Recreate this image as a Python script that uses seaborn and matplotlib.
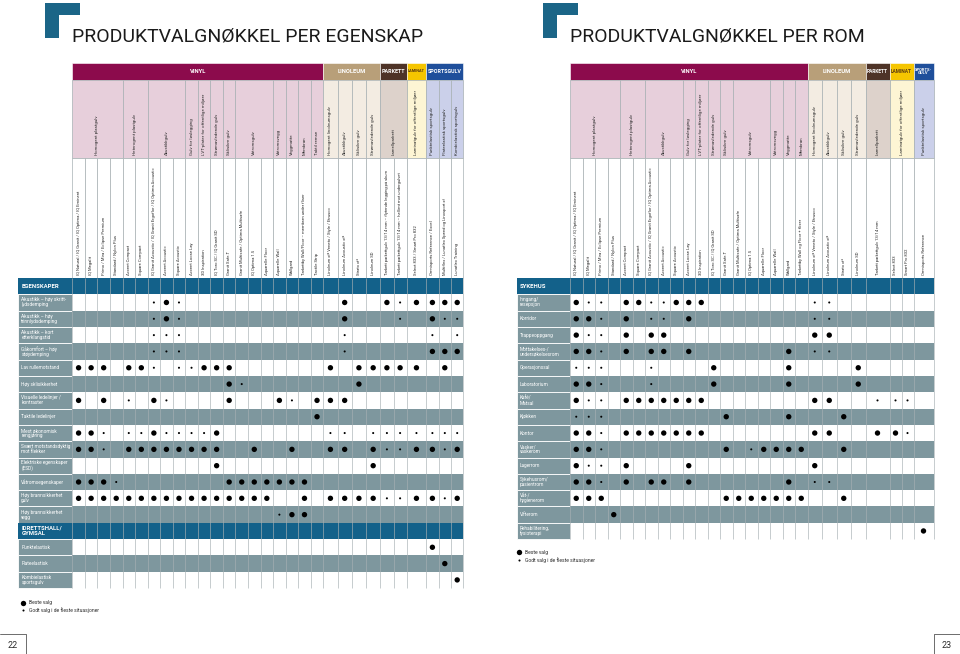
import numpy as np
import matplotlib

matplotlib.use('Agg')
import matplotlib.pyplot as plt
from matplotlib.patches import Rectangle
import pandas as pd
import seaborn as sns

sns.set_theme(style='white')
plt.rcParams['font.family'] = ['Liberation Sans Narrow', 'Roboto', 'DejaVu Sans']

# ---------------- data: left page (per egenskap) ----------------
left_categories = ['VINYL', 'LINOLEUM', 'PARKETT', 'LAMINAT', 'SPORTSGULV']
left_category_span = [20, 4, 2, 1, 3]
left_groups = ['Homogent plastgulv', 'Heterogent plastgulv', 'Akustikkgulv', 'Gulv for løslegging',
               'LVT-plater for offentlige miljøer', 'Strømavledende gulv', 'Sklisikre gulv', 'Våtromsgulv',
               'Våtromsvegg', 'Veggmatte', 'Membran', 'Taktil remse',
               'Homogent linoleumsgulv', 'Akustikkgulv', 'Sklisikre gulv', 'Strømavledende gulv',
               'Lamellparkett', 'Laminatgulv for offentlige miljøer',
               'Punktelastisk sportsgulv', 'Flateelastisk sportsgulv', 'Kombielastisk sportsgulv']
left_group_span = [4, 2, 3, 1, 1, 1, 1, 3, 1, 1, 1, 1, 1, 1, 1, 1, 2, 1, 1, 1, 1]
left_products = ['IQ Natural / IQ Granit / IQ Optima / IQ Eminent', 'IQ Megalit',
                 'Primo / Mira / Eclipse Premium', 'Standard / Nylon Plus', 'Accent Compact',
                 'Square Compact', 'IQ Granit Acoustic / IQ Granit Ergoflor / IQ Optima Acoustic',
                 'Accent Acoustic', 'Square Acoustic', 'Accent Loose Lay', '3D Inspiration',
                 'IQ Toro SC / IQ Granit SD', 'Granit Safe.T', 'Granit Multisafe / Optima Multisafe',
                 'IQ Optima 1.5', 'Aquarelle Floor', 'Aquarelle Wall', 'Wallgard',
                 'Tarkettby Wall/Floor – membran under fliser', 'Tactile Strip',
                 'Linoleum xf² Veneto / Style / Etrusco', 'Linoleum Acoustic xf²', 'Strato xf²',
                 'Linoleum SD', 'Tarkett parkettgulv 13/14 mm – flytende legging på skum',
                 'Tarkett parkettgulv 13/14 mm – hellimt mot undergulvet', 'Select 833 / Smart Pro 832',
                 'Omnisports Reference / Excel', 'Multiflex / Lunaflex Speed og Linosport xf',
                 'Lunaflex Training']
left_sections = ['EGENSKAPER', 'IDRETTSHALL/\nGYMSAL']
left_rows_1 = ['Akustikk – høy skritt-\nlydsdemping', 'Akustikk – høy\ntrinnlydsdemping',
               'Akustikk – kort\netterklangstid', 'Gåkomfort – høy\nstøydemping', 'Lav rullemotstand',
               'Høy sklisikkerhet', 'Visuelle ledelinjer /\nkontraster', 'Taktile ledelinjer',
               'Mest økonomisk\nrengjøring', 'Svært motstandsdyktig\nmot flekker',
               'Elektriske egenskaper\n(ESD)', 'Våtromsegenskaper', 'Høy brannsikkerhet\ngulv',
               'Høy brannsikkerhet\nvegg']
left_rows_2 = ['Punktelastisk', 'Flateelastisk', 'Kombielastisk\nsportsgulv']
# B = beste valg, s = godt valg, . = tom
left_marks = [
    '......sBs' + '............' + 'B..BsBBBB',
    '......sBs' + '............' + 'B...s.Bss',
    '......sss' + '............' + 's.....s.s',
    '......sss' + '............' + 's.....BBB',
    'BBB.BBs.ssBBB' + '.......' + 'B.BBBBB.B.',
    '............Bs' + '........' + 'B.......',
    'B.B.s.Bs....B' + '...Bs.' + 'BBB.......',
    '...................B' + '..........',
    'BBs.ssBssssB' + '........' + 'ss.sssssss',
    'BBs.BBBBBBBB' + '..B..B..' + 'BB.BssBBsB',
    '...........B' + '...........' + 'B......',
    'BBBs' + '........' + 'BBBBBBB' + '...........',
    'BBBBBBBBBBBBBBBB' + '..B.' + 'BBBBssBBsB',
    '................' + 'sBB' + '...........',
    '...........................B..',
    '............................B.',
    '.............................B',
]

# ---------------- data: right page (per rom) ----------------
right_categories = ['VINYL', 'LINOLEUM', 'PARKETT', 'LAMINAT', 'SPORTS-\nGULV']
right_category_span = [19, 4, 1, 2, 1]
right_groups = ['Homogent plastgulv', 'Heterogent plastgulv', 'Akustikkgulv', 'Gulv for løslegging',
                'LVT-plater for offentlige miljøer', 'Strømavledende gulv', 'Sklisikre gulv', 'Våtromsgulv',
                'Våtromsvegg', 'Veggmatte', 'Membran',
                'Homogent linoleumsgulv', 'Akustikkgulv', 'Sklisikre gulv', 'Strømavledende gulv',
                'Lamellparkett', 'Laminatgulv for offentlige miljøer', 'Punktelastisk sportsgulv']
right_group_span = [4, 2, 3, 1, 1, 1, 1, 3, 1, 1, 1, 1, 1, 1, 1, 1, 2, 1]
right_products = ['IQ Natural / IQ Granit / IQ Optima / IQ Eminent', 'IQ Megalit',
                  'Primo / Mira / Eclipse Premium', 'Standard / Nylon Plus', 'Accent Compact',
                  'Square Compact', 'IQ Granit Acoustic / IQ Granit Ergoflor / IQ Optima Acoustic',
                  'Accent Acoustic', 'Square Acoustic', 'Accent Loose Lay', '3D Inspiration',
                  'IQ Toro SC / IQ Granit SD', 'Granit Safe.T', 'Granit Multisafe / Optima Multisafe',
                  'IQ Optima 1.5', 'Aquarelle Floor', 'Aquarelle Wall', 'Wallgard',
                  'Tarkettby Wall og Floor + fliser', 'Linoleum xf² Veneto / Style / Etrusco',
                  'Linoleum Acoustic xf²', 'Strato xf²', 'Linoleum SD', 'Tarkett parkettgulv 13/14 mm',
                  'Select 833', 'Smart Pro 832', 'Omnisports Reference']
right_sections = ['SYKEHUS']
right_rows_1 = ['Inngang/\nresepsjon', 'Korridor', 'Trappeoppgang', 'Mottakelses-/\nundersøkelsesrom',
                'Operasjonssal', 'Laboratorium', 'Kafé/\nMatsal', 'Kjøkken', 'Kontor',
                'Vasker/\nvaskerom', 'Lagerrom', 'Sykehusrom/\npasientrom', 'Våt-/\nhygienerom',
                'Vifterom', 'Rehabilitering,\nfysioterapi']
right_marks = [
    'Bss.BBssBBB' + '........' + 'ss......',
    'BBs.B.ss.B.' + '........' + 'ss......',
    'Bss.B.BB...' + '........' + 'BB......',
    'BBs.B.BB.B.' + '......B.' + 'ss......',
    'sss...s....' + 'B.....B.' + '...B....',
    'BBs...s....' + 'B.....B.' + '...B....',
    'Bss.BBBBBBB' + '........' + 'BB..sss.',
    'sss........' + '.B....B.' + '..B.....',
    'BBs.BBBBBBB' + '........' + 'BB..BBs.',
    'BBs........' + '.B.sBBBB' + '..B.....',
    'Bss.B....B.' + '........' + 'B.......',
    'BBs.B.BB.B.' + '......B.' + 'ss......',
    'BBB........' + '.BBBBBBB' + '..B.....',
    '...B.......' + '........' + '........',
    '...........' + '........' + '.......B',
]

# ---------------- styling ----------------
cat_colors = ['#8c0b4c', '#b89f79', '#4e3327', '#f5c500', '#1f4f9b']
sub_colors = ['#e7cfdb', '#f3ece2', '#ddd2cb', '#fdf5d4', '#cbd0ea']
SECTION = '#13618a'
GREY = '#7e979e'
GRID = '#a7b0b3'
TXT = '#2b2b2b'

fig = plt.figure(figsize=(9.6, 6.54), dpi=100)
ax = fig.add_axes([0, 0, 1, 1])
ax.set_xlim(0, 960)
ax.set_ylim(654, 0)
ax.axis('off')
renderer = fig.canvas.get_renderer()


def fit_text(x, y, s, width, **kw):
    t = ax.text(x, y, s, **kw)
    w = t.get_window_extent(renderer).width
    t.set_fontsize(t.get_fontsize() * width / w)
    return t


def shrink_text(t, width):
    # make a label smaller only when it does not fit in its cell
    w = t.get_window_extent(renderer).width
    if w > width:
        t.set_fontsize(t.get_fontsize() * width / w)
    return t


def draw_table(x_label, x_data, widths, cat_names, cat_span, groups, group_span,
               products, sections, marks, top=278.0, row_h=16.32):
    edges = x_data + np.concatenate([[0], np.cumsum(widths)])
    centers = (edges[:-1] + edges[1:]) / 2
    x_end = edges[-1]
    col_cat = np.repeat(np.arange(len(cat_span)), cat_span)

    # category band
    i0 = 0
    for k, (name, n) in enumerate(zip(cat_names, cat_span)):
        x0, x1 = edges[i0], edges[i0 + n]
        ax.add_patch(Rectangle((x0, 63), x1 - x0, 17, fc=cat_colors[k], ec='white', lw=0.4))
        t = ax.text((x0 + x1) / 2, 71.5, name, ha='center', va='center', fontsize=4.2,
                    color='#5b3a12' if name == 'LAMINAT' else 'white', fontweight='bold',
                    linespacing=0.9)
        shrink_text(t, x1 - x0 - 2.5)
        i0 += n

    # sub category band
    i0 = 0
    for name, n in zip(groups, group_span):
        x0, x1 = edges[i0], edges[i0 + n]
        ax.add_patch(Rectangle((x0, 80), x1 - x0, 78, fc=sub_colors[col_cat[i0]], ec=GRID, lw=0.5))
        ax.text((x0 + x1) / 2, 155, name, rotation=90, ha='center', va='bottom', fontsize=3.2,
                color=TXT)
        i0 += n

    # product band
    for i, name in enumerate(products):
        ax.add_patch(Rectangle((edges[i], 158), widths[i], top - 158, fc='white', ec=GRID, lw=0.5))
        ax.text(centers[i], top - 3, name, rotation=90, ha='center', va='bottom', fontsize=3.0,
                color=TXT)

    # body rows
    y = top
    mark_rows = []
    for title, labels in sections:
        ax.add_patch(Rectangle((x_label, y), x_end - x_label, row_h, fc=SECTION, ec='none'))
        ax.text(x_label + 3, y + row_h / 2, title, ha='left', va='center', fontsize=4.3,
                color='white', fontweight='bold', linespacing=1.0)
        y += row_h
        for j, lab in enumerate(labels):
            ax.add_patch(Rectangle((x_label, y), x_data - x_label, row_h, fc=GREY, ec='white', lw=0.6))
            ax.text(x_label + 3, y + row_h / 2, lab, ha='left', va='center', fontsize=3.4,
                    color='white', linespacing=1.0)
            ax.add_patch(Rectangle((x_data, y), x_end - x_data, row_h,
                                   fc='white' if j % 2 == 0 else GREY, ec='none'))
            mark_rows.append(y + row_h / 2)
            y += row_h
    bottom = y
    ax.vlines(edges, top, bottom, colors=GRID, lw=0.5, alpha=0.9)

    recs = []
    for yc, row in zip(mark_rows, marks):
        for i, m in enumerate(row):
            if m != '.':
                recs.append({'x': centers[i], 'y': yc, 'kind': m})
    return pd.DataFrame(recs), bottom


left_df, left_bottom = draw_table(
    18.3, 72.3, [12.55] * 20 + [14.25] * 4 + [13.2] * 2 + [19.5] + [12.4] * 3,
    left_categories, left_category_span, left_groups, left_group_span, left_products,
    [(left_sections[0], left_rows_1), (left_sections[1], left_rows_2)], left_marks)

right_df, right_bottom = draw_table(
    516.7, 570.0, [12.5] * 19 + [14.5] * 4 + [24.0] + [12.0] * 2 + [20.0],
    right_categories, right_category_span, right_groups, right_group_span, right_products,
    [(right_sections[0], right_rows_1)], right_marks)

marks_df = pd.concat([left_df, right_df], ignore_index=True)
sns.scatterplot(data=marks_df, x='x', y='y', hue='kind', size='kind',
                sizes={'B': 15, 's': 2.2}, palette={'B': 'black', 's': 'black'},
                linewidth=0, legend=False, ax=ax)
ax.set_xlim(0, 960)
ax.set_ylim(654, 0)
ax.axis('off')

# legends
for lx, ly in [(22.7, 602.7), (519.3, 552.3)]:
    ax.scatter([lx], [ly], s=15, color='black', lw=0)
    ax.scatter([lx], [ly + 7.5], s=2.2, color='black', lw=0)
    ax.text(lx + 6, ly, 'Beste valg', ha='left', va='center', fontsize=3.6, color=TXT)
    ax.text(lx + 6, ly + 7.5, 'Godt valg i de fleste situasjoner', ha='left', va='center',
            fontsize=3.6, color=TXT)

# corner marks and titles
for cx in [45, 543]:
    ax.add_patch(Rectangle((cx, 3.3), 35, 11.5, fc='#1b6587', ec='none'))
    ax.add_patch(Rectangle((cx, 3.3), 14, 35, fc='#1b6587', ec='none'))
fit_text(72.3, 37, 'PRODUKTVALGNØKKEL PER EGENSKAP', 353, ha='left', va='center',
         fontsize=17, color='#1a1a1a')
fit_text(570, 37, 'PRODUKTVALGNØKKEL PER ROM', 296, ha='left', va='center',
         fontsize=17, color='#1a1a1a')

# page numbers
ax.plot([0, 26, 26], [634, 634, 654], color='#555555', lw=0.6)
ax.plot([960, 934, 934], [634, 634, 654], color='#555555', lw=0.6)
ax.text(8, 645, '22', ha='left', va='center', fontsize=6.5, color=TXT)
ax.text(952, 645, '23', ha='right', va='center', fontsize=6.5, color=TXT)

fig.savefig('out.png', dpi=100)
